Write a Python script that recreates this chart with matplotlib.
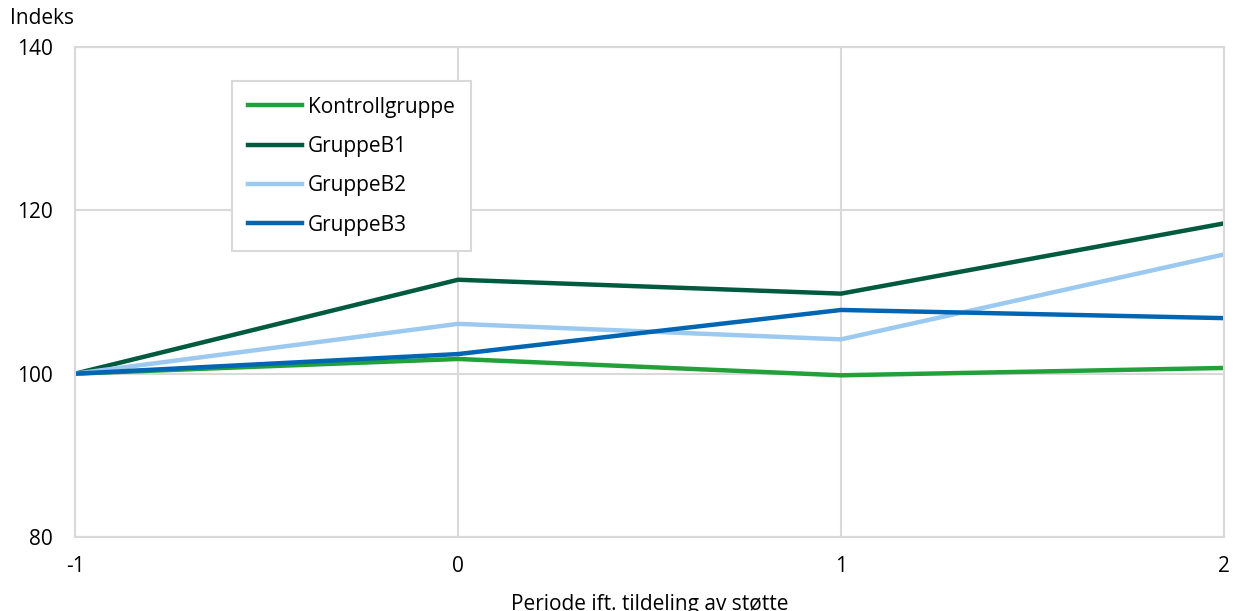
import matplotlib
matplotlib.use('Agg')
import matplotlib.pyplot as plt

# Data
periods = [-1, 0, 1, 2]
kontroll = [100.0, 101.8, 99.8, 100.7]
gruppe_b1 = [100.0, 111.5, 109.8, 118.4]
gruppe_b2 = [100.0, 106.1, 104.2, 114.6]
gruppe_b3 = [100.0, 102.4, 107.8, 106.8]
y_ticks = [80, 100, 120, 140]

plt.rcParams['font.family'] = ['Open Sans', 'DejaVu Sans']

fig = plt.figure(figsize=(12.34, 6.11), dpi=100)
ax = fig.add_axes([0.0608, 0.1211, 0.9311, 0.802])

ax.plot(periods, kontroll, color='#22a03a', lw=3.2, label='Kontrollgruppe')
ax.plot(periods, gruppe_b1, color='#005a3e', lw=3.2, label='GruppeB1')
ax.plot(periods, gruppe_b2, color='#9bc9ef', lw=3.2, label='GruppeB2')
ax.plot(periods, gruppe_b3, color='#0066b3', lw=3.2, label='GruppeB3')

ax.set_xlim(-1, 2)
ax.set_ylim(80, 140)
ax.set_xticks(periods)
ax.set_xticklabels([str(p) for p in periods])
ax.set_yticks(y_ticks)
ax.grid(True, color='#d9d9d9', lw=1.5)
ax.set_axisbelow(True)
for side in ['top', 'right', 'left', 'bottom']:
    ax.spines[side].set_color('#d9d9d9')
    ax.spines[side].set_linewidth(1.5)
ax.tick_params(length=0, labelsize=15)
ax.tick_params(axis='y', pad=16)
ax.tick_params(axis='x', pad=14)

ax.set_xlabel('Periode ift. tildeling av støtte', fontsize=15, labelpad=12)
fig.text(0.008, 0.97, 'Indeks', fontsize=15, ha='left', va='center')

leg = ax.legend(loc='upper left', bbox_to_anchor=(0.1366, 0.9306), borderaxespad=0,
                fontsize=15, handlelength=2.6, handletextpad=0.3, labelspacing=0.88,
                borderpad=0.75, fancybox=False, framealpha=1)
leg.get_frame().set_edgecolor('#d9d9d9')
leg.get_frame().set_linewidth(1.5)

fig.savefig('out.png')
